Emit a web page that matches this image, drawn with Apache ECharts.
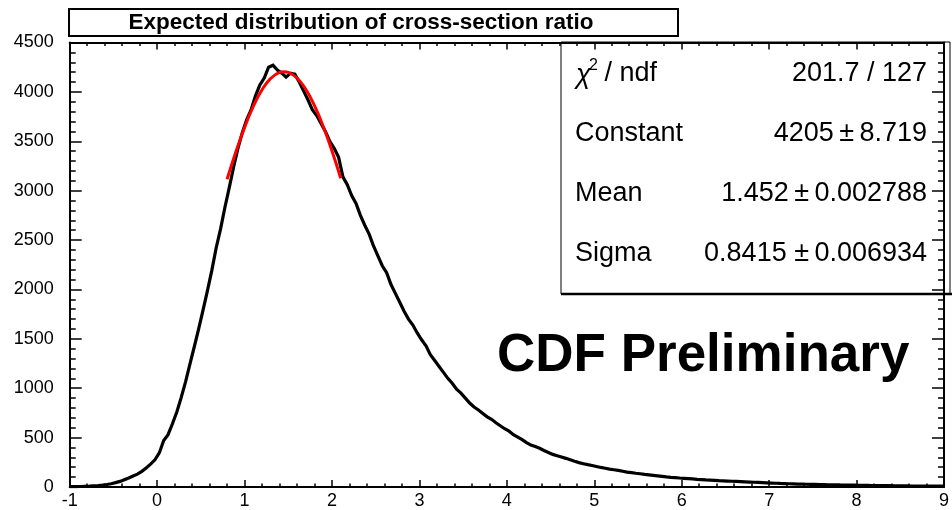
<!DOCTYPE html>
<html>
<head>
<meta charset="utf-8">
<script src="https://cdn.jsdelivr.net/npm/echarts@6/dist/echarts.min.js"></script>
<style>
  html, body { margin: 0; padding: 0; background: #fff; }
  #chart { width: 952px; height: 510px; }
</style>
</head>
<body>
<div id="chart"></div>
<script>
// ==========================================
// Expected distribution of cross-section ratio (CDF)
// ==========================================

var FONT = '"Liberation Sans", Arial, sans-serif';

// histogram: bins of 0.05 starting at -1 (counts)
var binStart = -1;
var binWidth = 0.05;
var counts = [
  3, 4, 5, 7, 9, 12, 15, 19, 25, 33,
  44, 57, 74, 92, 112, 130, 158, 192, 232, 275,
  345, 470, 530, 640, 760, 905, 1065, 1245, 1420, 1600,
  1790, 1985, 2190, 2420, 2610, 2830, 3030, 3240, 3430, 3590,
  3720, 3820, 3960, 4070, 4140, 4250, 4270, 4220, 4190, 4150,
  4190, 4180, 4100, 4010, 3920, 3820, 3760, 3680, 3600, 3500,
  3430, 3340, 3140, 3060, 2950, 2870, 2750, 2650, 2560, 2440,
  2340, 2240, 2170, 2050, 1960, 1870, 1780, 1700, 1640, 1560,
  1490, 1430, 1340, 1280, 1220, 1160, 1100, 1050, 990, 950,
  900, 850, 810, 780, 745, 710, 685, 650, 620, 590,
  565, 530, 505, 480, 450, 425, 410, 392, 370, 350,
  330, 317, 303, 290, 275, 260, 247, 236, 226, 218,
  208, 198, 190, 181, 175, 168, 160, 150, 145, 139,
  134, 127, 122, 117, 112, 107, 102, 98, 95, 91,
  88, 85, 82, 78, 75, 72, 70, 67, 64, 62,
  60, 58, 56, 54, 52, 50, 48, 46, 44, 42,
  40, 38, 36, 35, 33, 32, 30, 29, 28, 27,
  26, 25, 24, 23, 22, 21, 20, 19, 18, 18,
  17, 16, 16, 15, 14, 14, 13, 13, 12, 12,
  11, 11, 10, 10, 10, 9, 9, 9, 8, 8
];

// gaussian fit curve
var fitX = [0.8, 0.9, 1.0, 1.1, 1.2, 1.3, 1.4, 1.452, 1.5, 1.6, 1.7, 1.8, 1.9, 2.0, 2.1];
var fitY = [3115, 3391, 3640, 3853, 4021, 4137, 4197, 4205, 4198, 4141, 4026, 3861, 3650, 3401, 3126];

var titleText = 'Expected distribution of cross-section ratio';
var statNames = ['Constant', 'Mean', 'Sigma'];
var statValues = ['4205\u2009\u00b1\u20098.719', '1.452\u2009\u00b1\u20090.002788', '0.8415 \u00b1\u20090.006934'];
var chiValue = '201.7 / 127';

/** histogram drawn through bin centres (bins are finer than the line width) */
function histPoints() {
  var pts = [[binStart, counts[0]]];
  for (var i = 0; i < counts.length; i++) {
    pts.push([+(binStart + (i + 0.5) * binWidth).toFixed(3), counts[i]]);
  }
  pts.push([+(binStart + counts.length * binWidth).toFixed(2), counts[counts.length - 1]]);
  return pts;
}

function fitPoints() {
  return fitX.map(function (x, i) { return [x, fitY[i]]; });
}

function txt(x, y, text, font, align) {
  return {
    type: 'text', z: 6, x: x, y: y,
    style: { text: text, font: font, fill: '#000', textAlign: align, textVerticalAlign: 'middle', align: align, verticalAlign: 'middle' }
  };
}

var tickStyle = { color: '#000', width: 1.5 };

function makeAxis(pos, min, max, step, majorLen, minorLen, labels, margin) {
  return {
    type: 'value', position: pos, min: min, max: max, interval: step, z: 10,
    axisLine: { show: true, onZero: false, lineStyle: { color: '#000', width: 2 } },
    splitLine: { show: false },
    axisTick: { show: true, inside: true, length: majorLen, lineStyle: tickStyle },
    minorTick: { show: true, splitNumber: 5, length: minorLen, lineStyle: tickStyle },
    axisLabel: labels ? {
      show: true, color: '#000', fontSize: 18, fontFamily: FONT, margin: margin,
      showMinLabel: true, showMaxLabel: true,
      formatter: function (v) { return String(v); }
    } : { show: false }
  };
}

var chart = echarts.init(document.getElementById('chart'), null, { renderer: 'canvas' });

var statGraphics = [
  {
    type: 'rect', z: 5,
    shape: { x: 561, y: 42, width: 389, height: 252 },
    style: { fill: '#fff', stroke: '#000', lineWidth: 1 }
  },
  {
    type: 'line', z: 5,
    shape: { x1: 561, y1: 294, x2: 952, y2: 294 },
    style: { stroke: '#000', lineWidth: 2.5 }
  },
  txt(576, 75, '\u03c7', 'italic 27px ' + FONT, 'left'),
  txt(589, 66, '2', '16px ' + FONT, 'left'),
  txt(597, 74, ' / ndf', '27px ' + FONT, 'left'),
  txt(927, 74, chiValue, '27px ' + FONT, 'right')
];
statNames.forEach(function (name, i) {
  var y = 134 + i * 60;
  statGraphics.push(txt(575, y, name, '27px ' + FONT, 'left'));
  statGraphics.push(txt(927, y, statValues[i], '27px ' + FONT, 'right'));
});

var option = {
  backgroundColor: '#fff',
  animation: false,
  grid: { left: 69.7, right: 2.3, top: 42.5, bottom: 22 },
  xAxis: [
    makeAxis('bottom', -1, 9, 1, 7, 3.5, true, 5),
    makeAxis('top', -1, 9, 1, 7, 3.5, false, 0)
  ],
  yAxis: [
    makeAxis('left', 0, 4500, 500, 12, 6, true, 16),
    makeAxis('right', 0, 4500, 500, 12, 6, false, 0)
  ],
  series: [
    {
      type: 'line', data: histPoints(),
      xAxisIndex: 0, yAxisIndex: 0,
      showSymbol: false, symbol: 'none',
      lineStyle: { color: '#000', width: 3.2, join: 'miter' },
      z: 2
    },
    {
      type: 'line', smooth: true, data: fitPoints(),
      xAxisIndex: 0, yAxisIndex: 0,
      showSymbol: false, symbol: 'none',
      lineStyle: { color: '#ff0000', width: 3 },
      z: 3
    }
  ],
  graphic: [
    {
      type: 'rect', z: 5,
      shape: { x: 69, y: 9, width: 609, height: 27 },
      style: { fill: '#fff', stroke: '#000', lineWidth: 2 }
    },
    txt(361, 23, titleText, 'bold 22.5px ' + FONT, 'center'),
    txt(497, 356, 'CDF Preliminary', 'bold 53px ' + FONT, 'left')
  ].concat(statGraphics)
};

chart.setOption(option);
</script>
</body>
</html>
